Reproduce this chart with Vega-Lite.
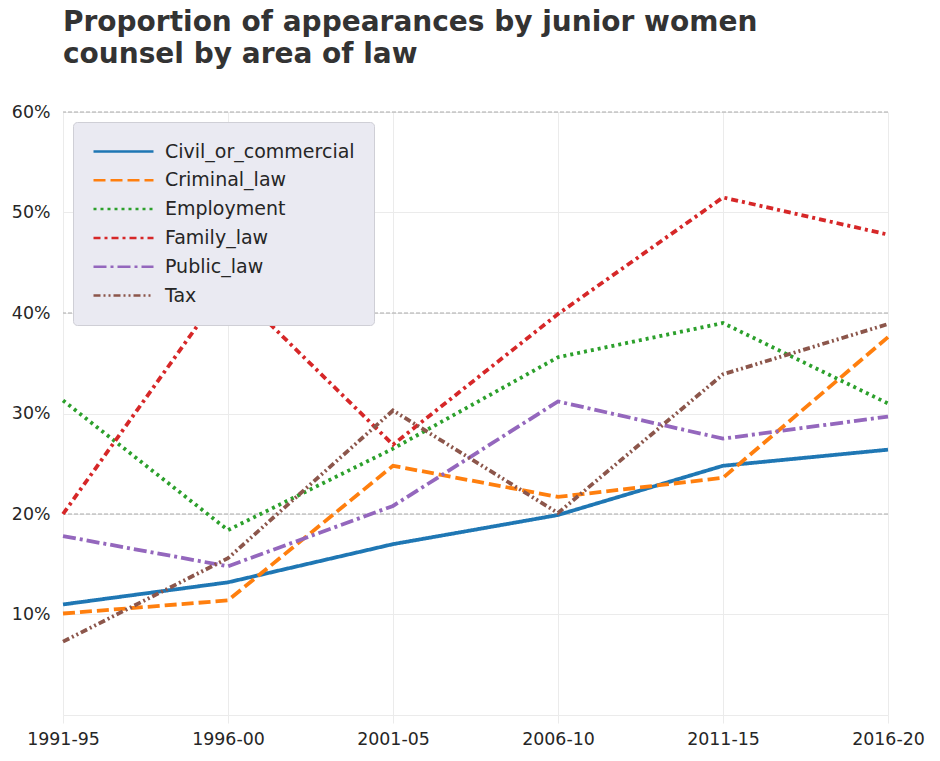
{
  "$schema": "https://vega.github.io/schema/vega-lite/v6.json",
  "autosize": "none",
  "width": 825,
  "height": 603,
  "padding": {"left": 63, "top": 112, "right": 52, "bottom": 46},
  "background": "white",
  "config": {
    "font": "DejaVu Sans",
    "view": {"stroke": null}
  },
  "title": {
    "text": ["Proportion of appearances by junior women", "counsel by area of law"],
    "anchor": "start",
    "frame": "group",
    "fontSize": 28,
    "fontWeight": "bold",
    "color": "#333333",
    "lineHeight": 32,
    "offset": 34
  },
  "datasets": {
    "refs": [{"y": 0.2}, {"y": 0.4}, {"y": 0.6}],
    "series": [
      {"period": "1991-95", "area": "Civil_or_commercial", "value": 0.110},
      {"period": "1996-00", "area": "Civil_or_commercial", "value": 0.132},
      {"period": "2001-05", "area": "Civil_or_commercial", "value": 0.170},
      {"period": "2006-10", "area": "Civil_or_commercial", "value": 0.199},
      {"period": "2011-15", "area": "Civil_or_commercial", "value": 0.248},
      {"period": "2016-20", "area": "Civil_or_commercial", "value": 0.264},
      {"period": "1991-95", "area": "Criminal_law", "value": 0.101},
      {"period": "1996-00", "area": "Criminal_law", "value": 0.114},
      {"period": "2001-05", "area": "Criminal_law", "value": 0.248},
      {"period": "2006-10", "area": "Criminal_law", "value": 0.217},
      {"period": "2011-15", "area": "Criminal_law", "value": 0.236},
      {"period": "2016-20", "area": "Criminal_law", "value": 0.376},
      {"period": "1991-95", "area": "Employment", "value": 0.313},
      {"period": "1996-00", "area": "Employment", "value": 0.184},
      {"period": "2001-05", "area": "Employment", "value": 0.265},
      {"period": "2006-10", "area": "Employment", "value": 0.356},
      {"period": "2011-15", "area": "Employment", "value": 0.390},
      {"period": "2016-20", "area": "Employment", "value": 0.310},
      {"period": "1991-95", "area": "Family_law", "value": 0.200},
      {"period": "1996-00", "area": "Family_law", "value": 0.430},
      {"period": "2001-05", "area": "Family_law", "value": 0.269},
      {"period": "2006-10", "area": "Family_law", "value": 0.399},
      {"period": "2011-15", "area": "Family_law", "value": 0.515},
      {"period": "2016-20", "area": "Family_law", "value": 0.478},
      {"period": "1991-95", "area": "Public_law", "value": 0.178},
      {"period": "1996-00", "area": "Public_law", "value": 0.148},
      {"period": "2001-05", "area": "Public_law", "value": 0.208},
      {"period": "2006-10", "area": "Public_law", "value": 0.312},
      {"period": "2011-15", "area": "Public_law", "value": 0.275},
      {"period": "2016-20", "area": "Public_law", "value": 0.297},
      {"period": "1991-95", "area": "Tax", "value": 0.073},
      {"period": "1996-00", "area": "Tax", "value": 0.156},
      {"period": "2001-05", "area": "Tax", "value": 0.303},
      {"period": "2006-10", "area": "Tax", "value": 0.201},
      {"period": "2011-15", "area": "Tax", "value": 0.339},
      {"period": "2016-20", "area": "Tax", "value": 0.389}
    ]
  },
  "layer": [
    {
      "data": {"name": "refs"},
      "mark": {"type": "rule", "color": "#aaaaaa", "strokeWidth": 1, "strokeDash": [4, 2]},
      "encoding": {
        "y": {"field": "y", "type": "quantitative", "scale": {"domain": [0, 0.6], "nice": false}}
      }
    },
    {
      "data": {"name": "series"},
      "mark": {"type": "line", "strokeWidth": 3.8, "strokeCap": "butt", "strokeJoin": "miter"},
      "encoding": {
        "x": {
          "field": "period",
          "type": "ordinal",
          "sort": null,
          "scale": {"type": "point", "padding": 0},
          "axis": {
            "title": null,
            "labelAngle": 0,
            "labelFontSize": 17.4,
            "labelColor": "#262626",
            "labelPadding": 7,
            "grid": true,
            "gridColor": "#ebebeb",
            "gridWidth": 1,
            "domain": false,
            "ticks": true,
            "tickColor": "#ebebeb",
            "tickSize": 8
          }
        },
        "y": {
          "field": "value",
          "type": "quantitative",
          "scale": {"domain": [0, 0.6], "nice": false, "zero": true},
          "axis": {
            "title": null,
            "values": [0, 0.1, 0.2, 0.3, 0.4, 0.5, 0.6],
            "format": ".0%",
            "labelExpr": "datum.value === 0 ? '' : datum.label",
            "labelFontSize": 17.4,
            "labelColor": "#262626",
            "labelPadding": 13,
            "grid": true,
            "gridColor": "#ebebeb",
            "gridWidth": 1,
            "domain": false,
            "ticks": false
          }
        },
        "color": {
          "field": "area",
          "type": "nominal",
          "scale": {
            "domain": ["Civil_or_commercial", "Criminal_law", "Employment", "Family_law", "Public_law", "Tax"],
            "range": ["#1f77b4", "#ff7f0e", "#2ca02c", "#d62728", "#9467bd", "#8c564b"]
          },
          "legend": {
            "orient": "none",
            "legendX": 10,
            "legendY": 10,
            "title": null,
            "fillColor": "#eaeaf2",
            "strokeColor": "#cfcfd6",
            "cornerRadius": 4,
            "padding": 19,
            "symbolType": "M-1,0H5.667",
            "symbolSize": 324,
            "symbolStrokeWidth": 2.5,
            "labelFontSize": 19,
            "labelLimit": 400,
            "labelColor": "#262626",
            "labelOffset": 52,
            "rowPadding": 7.8
          }
        },
        "strokeDash": {
          "field": "area",
          "type": "nominal",
          "scale": {
            "domain": ["Civil_or_commercial", "Criminal_law", "Employment", "Family_law", "Public_law", "Tax"],
            "range": [[1, 0], [12, 5], [3, 4], [7, 4, 3, 4], [13, 4, 3, 4], [7, 3, 2, 3, 2, 3]]
          },
          "legend": {
            "orient": "none",
            "legendX": 10,
            "legendY": 10,
            "title": null,
            "fillColor": "#eaeaf2",
            "strokeColor": "#cfcfd6",
            "cornerRadius": 4,
            "padding": 19,
            "symbolType": "M-1,0H5.667",
            "symbolSize": 324,
            "symbolStrokeWidth": 2.5,
            "labelFontSize": 19,
            "labelLimit": 400,
            "labelColor": "#262626",
            "labelOffset": 52,
            "rowPadding": 7.8
          }
        }
      }
    }
  ]
}
